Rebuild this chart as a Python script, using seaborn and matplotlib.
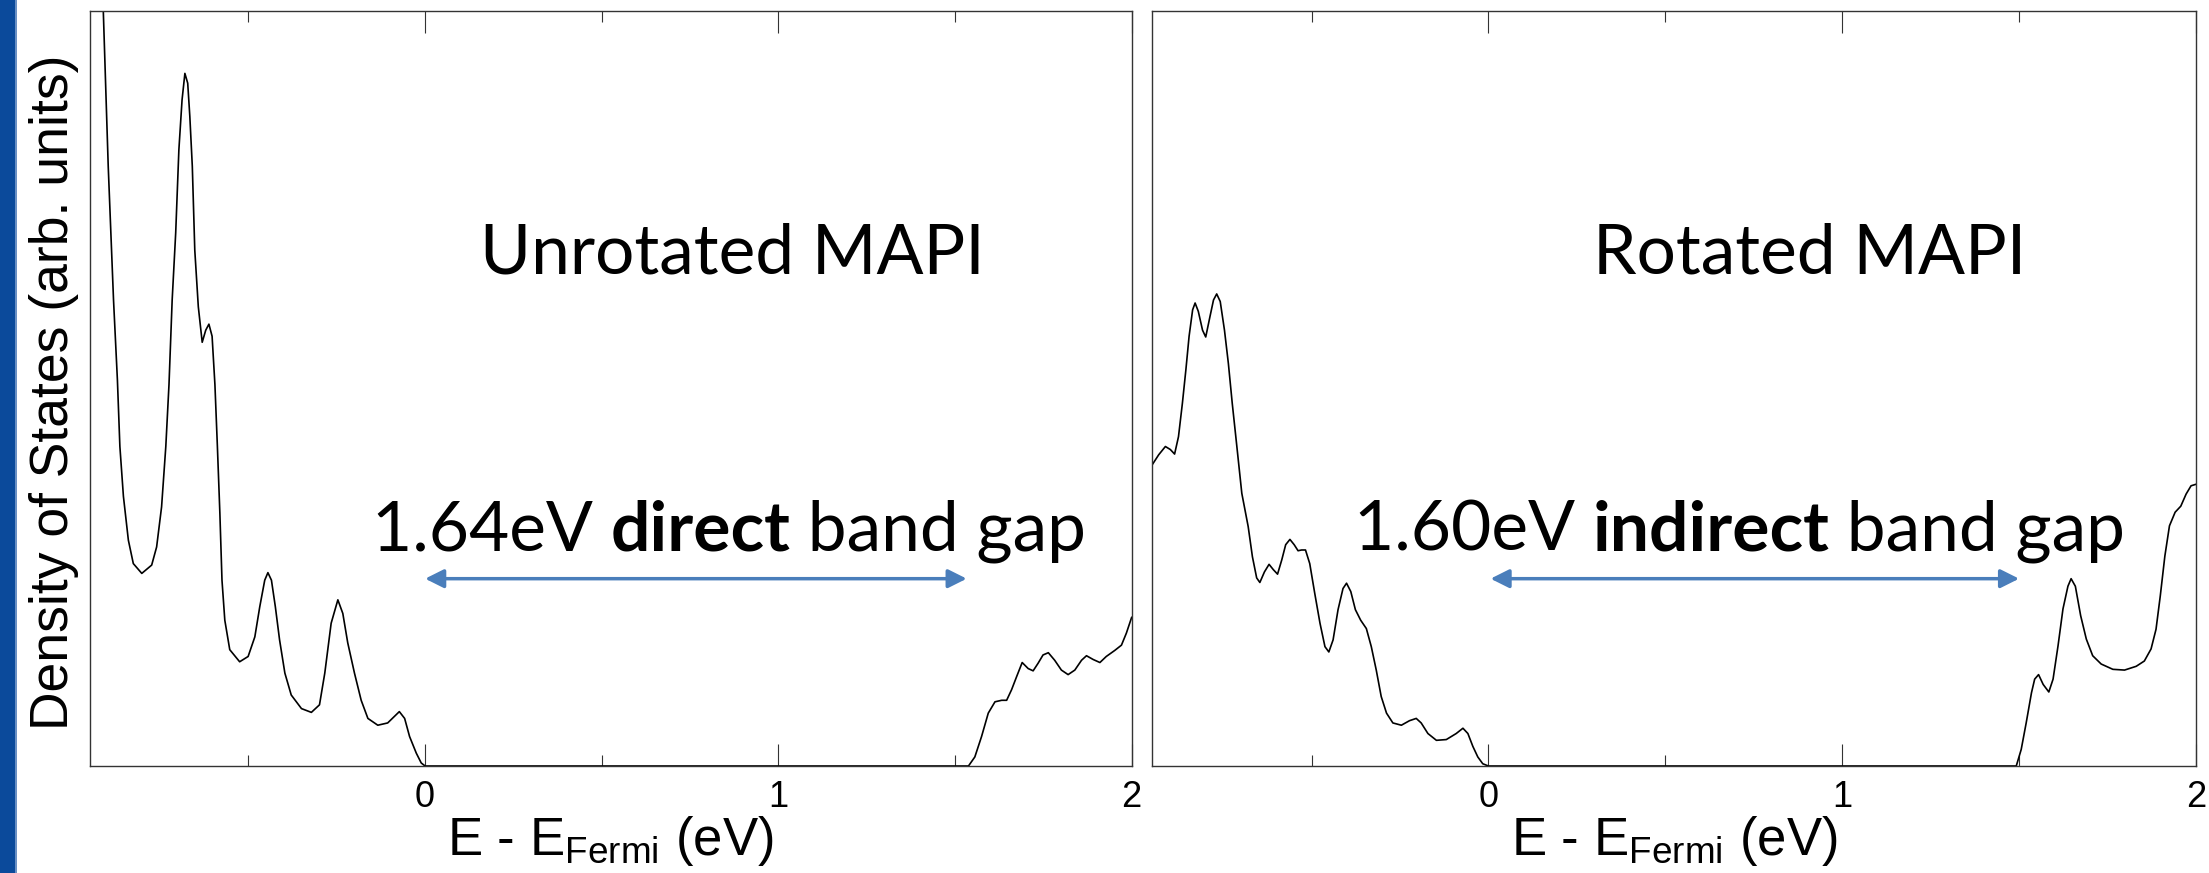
import numpy as np
import pandas as pd
import matplotlib
matplotlib.use("Agg")
import matplotlib.pyplot as plt
import seaborn as sns
from matplotlib.patches import Rectangle

# ----------------------- Data -----------------------

# Unrotated MAPI: energy (eV) and density of states (arb. units, 0-10 axis)
unrot_energy = [
    -0.913, -0.897, -0.882, -0.871, -0.864, -0.854, -0.840, -0.826, -0.802, -0.774,
    -0.760, -0.746, -0.734, -0.725, -0.716, -0.706, -0.697, -0.688, -0.680, -0.672,
    -0.666, -0.659, -0.652, -0.642, -0.631, -0.621, -0.612, -0.603, -0.595, -0.588,
    -0.581, -0.575, -0.567, -0.553, -0.525, -0.501, -0.482, -0.468, -0.454, -0.445,
    -0.435, -0.424, -0.412, -0.397, -0.379, -0.350, -0.322, -0.299, -0.284, -0.266,
    -0.247, -0.233, -0.219, -0.200, -0.181, -0.162, -0.134, -0.106, -0.073, -0.058,
    -0.044, -0.025, -0.011, 0.000, 1.538, 1.556, 1.575, 1.594, 1.613, 1.632,
    1.646, 1.660, 1.674, 1.690, 1.707, 1.721, 1.735, 1.749, 1.764, 1.782,
    1.801, 1.820, 1.839, 1.858, 1.872, 1.891, 1.910, 1.928, 1.952, 1.971,
    1.985, 2.000,
]
unrot_dos = [
    10.30, 7.94, 6.17, 5.11, 4.23, 3.57, 2.99, 2.68, 2.55, 2.66,
    2.90, 3.43, 4.23, 5.05, 6.17, 7.06, 8.16, 8.82, 9.17, 9.04,
    8.60, 7.94, 6.83, 6.08, 5.61, 5.77, 5.85, 5.69, 5.05, 4.23,
    3.35, 2.46, 1.93, 1.54, 1.38, 1.45, 1.71, 2.11, 2.46, 2.56,
    2.46, 2.11, 1.67, 1.23, 0.94, 0.76, 0.71, 0.81, 1.23, 1.89,
    2.20, 2.02, 1.63, 1.23, 0.87, 0.63, 0.54, 0.57, 0.72, 0.63,
    0.39, 0.17, 0.04, 0.00, 0.00, 0.12, 0.39, 0.70, 0.85, 0.87,
    0.87, 1.01, 1.18, 1.37, 1.29, 1.26, 1.36, 1.47, 1.50, 1.40,
    1.27, 1.21, 1.27, 1.40, 1.46, 1.41, 1.37, 1.45, 1.53, 1.60,
    1.76, 1.97,
]

# Rotated MAPI
rot_energy = [
    -0.950, -0.932, -0.913, -0.899, -0.887, -0.876, -0.865, -0.855, -0.846, -0.836,
    -0.829, -0.820, -0.808, -0.799, -0.787, -0.777, -0.768, -0.758, -0.746, -0.735,
    -0.724, -0.711, -0.697, -0.679, -0.667, -0.655, -0.646, -0.633, -0.620, -0.608,
    -0.596, -0.584, -0.573, -0.561, -0.549, -0.538, -0.528, -0.517, -0.505, -0.491,
    -0.476, -0.462, -0.451, -0.439, -0.425, -0.411, -0.401, -0.389, -0.376, -0.361,
    -0.345, -0.331, -0.317, -0.303, -0.288, -0.270, -0.246, -0.223, -0.204, -0.190,
    -0.171, -0.147, -0.119, -0.091, -0.072, -0.058, -0.044, -0.030, -0.016, 0.000,
    1.492, 1.506, 1.520, 1.535, 1.544, 1.555, 1.568, 1.584, 1.596, 1.610,
    1.624, 1.638, 1.647, 1.659, 1.674, 1.690, 1.708, 1.732, 1.765, 1.798,
    1.831, 1.854, 1.873, 1.887, 1.899, 1.912, 1.925, 1.941, 1.957, 1.972,
    1.986, 2.000,
]
rot_dos = [
    3.99, 4.12, 4.23, 4.19, 4.13, 4.36, 4.80, 5.25, 5.69, 6.04,
    6.13, 6.02, 5.77, 5.68, 5.95, 6.17, 6.25, 6.15, 5.77, 5.33,
    4.80, 4.23, 3.61, 3.17, 2.77, 2.49, 2.43, 2.57, 2.67, 2.60,
    2.54, 2.73, 2.93, 3.00, 2.93, 2.85, 2.86, 2.86, 2.68, 2.29,
    1.89, 1.58, 1.51, 1.67, 2.07, 2.35, 2.42, 2.31, 2.07, 1.93,
    1.82, 1.58, 1.27, 0.92, 0.70, 0.57, 0.54, 0.60, 0.63, 0.57,
    0.43, 0.34, 0.35, 0.43, 0.50, 0.43, 0.26, 0.12, 0.03, 0.00,
    0.00, 0.22, 0.57, 0.97, 1.15, 1.21, 1.08, 0.98, 1.15, 1.59,
    2.08, 2.38, 2.48, 2.38, 1.99, 1.68, 1.46, 1.35, 1.28, 1.27,
    1.32, 1.39, 1.55, 1.81, 2.25, 2.78, 3.18, 3.36, 3.44, 3.60,
    3.71, 3.73,
]

panel_titles = ["Unrotated MAPI", "Rotated MAPI"]
gap_values = ["1.64eV ", "1.60eV "]
gap_kinds = ["direct", "indirect"]
gap_arrows = [(0.0, 1.533), (0.006, 1.50)]
major_ticks = [0, 1, 2]
minor_ticks = [-0.5, 0.5, 1.5]

# ----------------------- Styling -----------------------

sns.set_style("white")
plt.rcParams["font.family"] = ["Liberation Sans", "DejaVu Sans"]
plt.rcParams["text.color"] = "black"
plt.rcParams["mathtext.fontset"] = "custom"
plt.rcParams["mathtext.rm"] = "Liberation Sans"
plt.rcParams["mathtext.default"] = "regular"

W, H = 2209, 873
fig = plt.figure(figsize=(W / 100, H / 100), dpi=100)

# blue band at the left edge of the slide
fig.add_artist(Rectangle((0, 0), 15 / W, 1, transform=fig.transFigure,
                         color="#0B4A9B", lw=0))
fig.add_artist(Rectangle((15 / W, 0), 2 / W, 1, transform=fig.transFigure,
                         color="#6A90C4", lw=0))

ax_left = fig.add_axes([89.5 / W, 107 / H, 1042.2 / W, 755.3 / H])
ax_right = fig.add_axes([1152.3 / W, 107 / H, 1043.7 / W, 755.3 / H])

# (axes, energy, dos, x where the gap text starts, title centre) in axes fractions
panels = [
    (ax_left, unrot_energy, unrot_dos, 0.271, 0.6165),
    (ax_right, rot_energy, rot_dos, 0.193, 0.6297),
]

for i, (ax, energy, dos, gap_x, title_x) in enumerate(panels):
    df = pd.DataFrame({"E": energy, "DOS": dos})
    sns.lineplot(data=df, x="E", y="DOS", ax=ax, color="black", lw=1.2,
                 sort=False, estimator=None)
    ax.set_xlim(-0.95, 2.0)
    ax.set_ylim(0, 10)

    # ticks: inward, top and bottom, labels only at integers
    ax.set_xticks(major_ticks)
    ax.set_xticks(minor_ticks, minor=True)
    ax.set_xticklabels([str(t) for t in major_ticks])
    ax.set_yticks([])
    ax.tick_params(axis="x", which="major", direction="in", length=16, width=0.8,
                   top=True, bottom=True, labelsize=26, pad=10, color="#333333",
                   labelcolor="black")
    ax.tick_params(axis="x", which="minor", direction="in", length=8, width=0.8,
                   top=True, bottom=True, color="#333333")
    for sp in ax.spines.values():
        sp.set_visible(True)
        sp.set_color("#333333")
        sp.set_linewidth(1.0)

    ax.set_xlabel("E - E$_{Fermi}$ (eV)", fontsize=38, color="black")
    ax.xaxis.set_label_coords(0.5, -0.064)
    ax.set_ylabel("")

    # panel title
    ax.text(title_x, 0.6527, panel_titles[i], transform=ax.transAxes,
            ha="center", va="baseline", fontsize=50, family="Lato")

    # band-gap sentence, built from regular / bold / regular pieces
    t1 = ax.text(gap_x, 0.2847, gap_values[i], transform=ax.transAxes,
                 ha="left", va="baseline", fontsize=50, family="Lato")
    t2 = ax.annotate(gap_kinds[i], xy=(1, 0), xycoords=t1, ha="left", va="bottom",
                     fontsize=50, family="Lato", fontweight="bold")
    ax.annotate(" band gap", xy=(1, 0), xycoords=t2, ha="left", va="bottom",
                fontsize=50, family="Lato")

    x0, x1 = gap_arrows[i]
    ax.annotate("", xy=(x1, 2.48), xytext=(x0, 2.48),
                arrowprops=dict(arrowstyle="<|-|>", color="#4A7EBB", lw=2.5,
                                mutation_scale=28, shrinkA=0, shrinkB=0))

fig.text(54 / W, (H - 392) / H, "Density of States (arb. units)", rotation=90,
         ha="center", va="center", fontsize=38.5, color="black")

fig.savefig("out.png", dpi=100)
